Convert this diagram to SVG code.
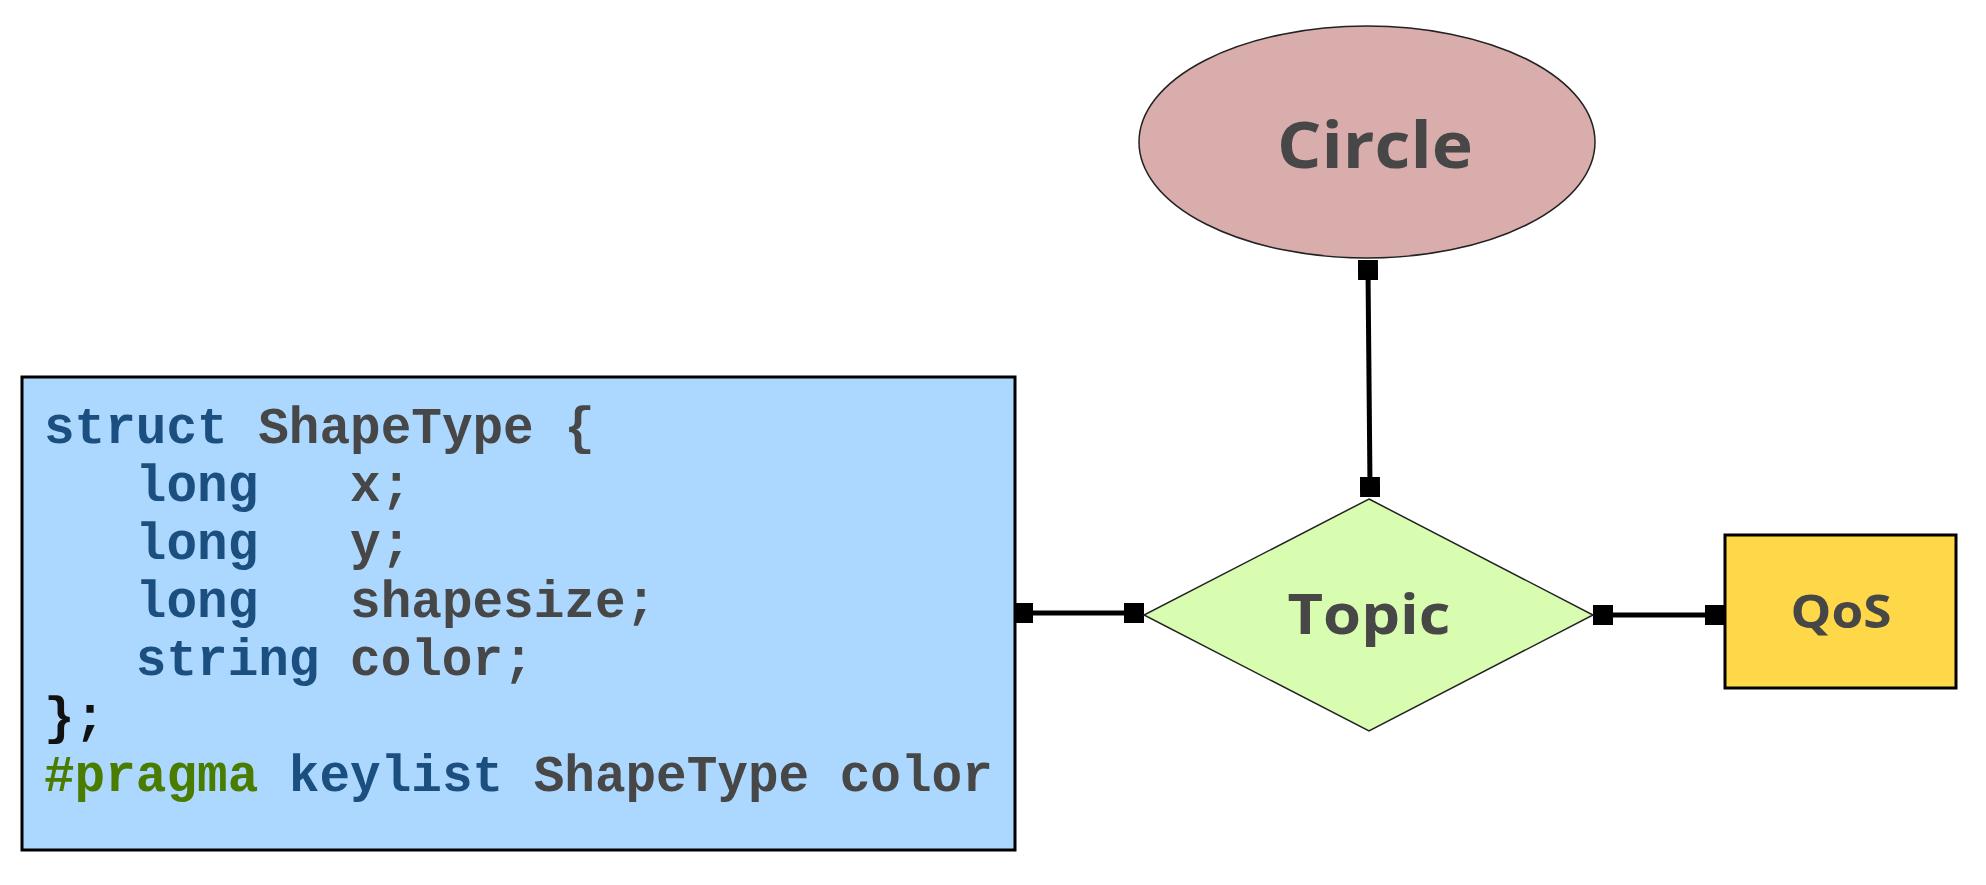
<svg xmlns="http://www.w3.org/2000/svg" width="1986" height="885" viewBox="0 0 1986 885">
<style>
.lbl{font-family:"Open Sans","Liberation Sans",sans-serif;font-weight:700;fill:#474747;text-anchor:middle}
.code{font-family:"Liberation Mono","DejaVu Sans Mono",monospace;font-weight:700;font-size:51px;white-space:pre}
.kw{fill:#1b4f80}
.id{fill:#474747}
.pp{fill:#4a7c00}
.pn{fill:#111111}
.conn{stroke:#000;stroke-width:5;fill:none;marker-start:url(#sq);marker-end:url(#sq)}
</style>
<defs>
<marker id="sq" viewBox="0 0 20 20" refX="10" refY="10" markerWidth="20" markerHeight="20" markerUnits="userSpaceOnUse" orient="auto">
<rect x="0" y="0" width="20" height="20" fill="#000"/>
</marker>
</defs>
<rect width="1986" height="885" fill="#ffffff"/>
<g id="connectors">
<line class="conn" x1="1368" y1="270" x2="1370" y2="487"/>
<line class="conn" x1="1023" y1="613" x2="1134" y2="613"/>
<line class="conn" x1="1603" y1="615" x2="1715" y2="615"/>
</g>
<g id="node-shapetype">
<rect x="22" y="377" width="993" height="473" fill="#acd7ff" stroke="#000" stroke-width="3"/>
<text class="code" xml:space="preserve" x="44" y="443"><tspan class="kw">struct</tspan><tspan class="id"> ShapeType {</tspan></text>
<text class="code" xml:space="preserve" x="44" y="501"><tspan class="kw">   long</tspan><tspan class="id">   x;</tspan></text>
<text class="code" xml:space="preserve" x="44" y="559"><tspan class="kw">   long</tspan><tspan class="id">   y;</tspan></text>
<text class="code" xml:space="preserve" x="44" y="617"><tspan class="kw">   long</tspan><tspan class="id">   shapesize;</tspan></text>
<text class="code" xml:space="preserve" x="44" y="675"><tspan class="kw">   string</tspan><tspan class="id"> color;</tspan></text>
<text class="code" xml:space="preserve" x="44" y="733"><tspan class="pn">};</tspan></text>
<text class="code" xml:space="preserve" x="44" y="791"><tspan class="pp">#pragma</tspan><tspan class="kw"> keylist</tspan><tspan class="id"> ShapeType color</tspan></text>
</g>
<g id="node-circle">
<ellipse cx="1367" cy="142" rx="228" ry="116" fill="#d8adab" stroke="#222" stroke-width="1.5"/>
<text class="lbl" x="1375" y="168" font-size="64" textLength="196" lengthAdjust="spacingAndGlyphs">Circle</text>
</g>
<g id="node-topic">
<polygon points="1369,499 1593,615 1369,731 1144,615" fill="#d8fcb0" stroke="#222" stroke-width="1.5"/>
<text class="lbl" x="1369" y="634" font-size="55" textLength="163" lengthAdjust="spacingAndGlyphs">Topic</text>
</g>
<g id="node-qos">
<rect x="1725" y="535" width="231" height="153" fill="#ffd84a" stroke="#000" stroke-width="3"/>
<text class="lbl" x="1841" y="628" font-size="47" textLength="101" lengthAdjust="spacingAndGlyphs">QoS</text>
</g>
</svg>
